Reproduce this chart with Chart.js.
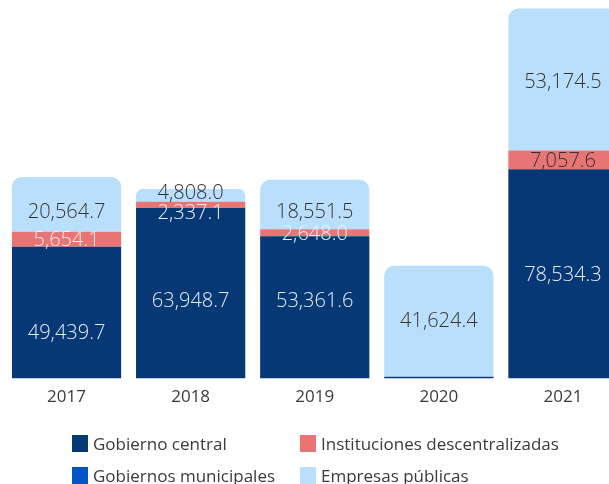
<!DOCTYPE html>
<html>
<head>
<meta charset="utf-8">
<script src="https://cdn.jsdelivr.net/npm/chart.js@4"></script>
<style>
  html, body { margin:0; padding:0; background:#fff; overflow:hidden; width:609px; height:484px; }
  #wrap { position:absolute; left:0; top:0; width:625px; height:484px; }
  #legend { position:absolute; left:0; top:0; width:609px; height:484px; pointer-events:none;
            font-family:"Open Sans", sans-serif; font-size:17px; color:#3a3a3a; }
  .li { position:absolute; display:flex; align-items:center; height:18px; white-space:nowrap; }
  .sw { width:16px; height:17px; margin-right:5px; }
</style>
</head>
<body>
<div id="wrap"><canvas id="c" width="625" height="484"></canvas></div>
<div id="legend"></div>
<script>
const categories = ["2017", "2018", "2019", "2020", "2021"];
const seriesNames = ["Gobierno central", "Instituciones descentralizadas", "Gobiernos municipales", "Empresas públicas"];
const gobiernoCentral = [49439.7, 63948.7, 53361.6, 700, 78534.3];
const institucionesDescentralizadas = [5654.1, 2337.1, 2648.0, 0, 7057.6];
const gobiernosMunicipales = [0, 0, 0, 0, 0];
const empresasPublicas = [20564.7, 4808.0, 18551.5, 41624.4, 53174.5];

const colors = ["#053874", "#E87474", "#0055C4", "#BADFFC"];
const labelColors = [
  ["#e6ecf5", "#e6ecf5", "#e6ecf5", "#e6ecf5", "#e6ecf5"],
  ["#fbeaea", "#eef2f8", "#eef2f8", "#eef2f8", "#333333"],
  ["#ffffff", "#ffffff", "#ffffff", "#ffffff", "#ffffff"],
  ["#333333", "#333333", "#333333", "#333333", "#333333"]
];
const labelNudge = [
  [21, 8, -6, 0, 1],
  [1, 8, 1, 0, 1],
  [0, 0, 0, 0, 0],
  [8, -2, 8, 0, 3]
];

const allSeries = [gobiernoCentral, institucionesDescentralizadas, gobiernosMunicipales, empresasPublicas];
const fmt = v => v.toLocaleString("en-US", {minimumFractionDigits:1, maximumFractionDigits:1});

const labelPlugin = {
  id: "segLabels",
  afterDatasetsDraw(chart) {
    const ctx = chart.ctx;
    ctx.save();
    ctx.font = "300 20px 'Open Sans', sans-serif";
    ctx.textAlign = "center";
    ctx.textBaseline = "middle";
    chart.data.datasets.forEach((ds, di) => {
      const meta = chart.getDatasetMeta(di);
      meta.data.forEach((bar, i) => {
        const v = ds.data[i];
        if (!v || v < 1000) return;
        const yc = (bar.y + bar.base) / 2 + labelNudge[di][i];
        ctx.fillStyle = labelColors[di][i];
        ctx.fillText(fmt(v), bar.x, yc);
      });
    });
    ctx.restore();
  }
};

new Chart(document.getElementById("c"), {
  type: "bar",
  data: {
    labels: categories,
    datasets: allSeries.map((d, k) => ({
      label: seriesNames[k],
      data: d,
      backgroundColor: colors[k],
      borderWidth: 0,
      borderRadius: k === 3 ? {topLeft: 10, topRight: 10, bottomLeft: 0, bottomRight: 0} : 0,
      borderSkipped: false,
      categoryPercentage: 1,
      barPercentage: 0.88
    }))
  },
  options: {
    responsive: false,
    animation: false,
    devicePixelRatio: 1,
    layout: { padding: { left: 4.5, right: 0, top: 0, bottom: 69 } },
    plugins: { legend: { display: false }, tooltip: { enabled: false } },
    scales: {
      x: {
        stacked: true,
        grid: { display: false, drawTicks: false },
        border: { display: false },
        ticks: { color: "#3a3a3a", padding: 8, font: { family: "'Open Sans', sans-serif", size: 17 } }
      },
      y: {
        stacked: true,
        display: false,
        min: 0,
        max: 142000
      }
    }
  },
  plugins: [labelPlugin]
});

const legendPos = [[72, 434], [300, 434], [72, 466], [300, 466]];
const lg = document.getElementById("legend");
seriesNames.forEach((n, k) => {
  const d = document.createElement("div");
  d.className = "li";
  d.style.left = legendPos[k][0] + "px";
  d.style.top = legendPos[k][1] + "px";
  d.innerHTML = '<span class="sw" style="background:' + colors[k] + '"></span><span>' + n + '</span>';
  lg.appendChild(d);
});
</script>
</body>
</html>
